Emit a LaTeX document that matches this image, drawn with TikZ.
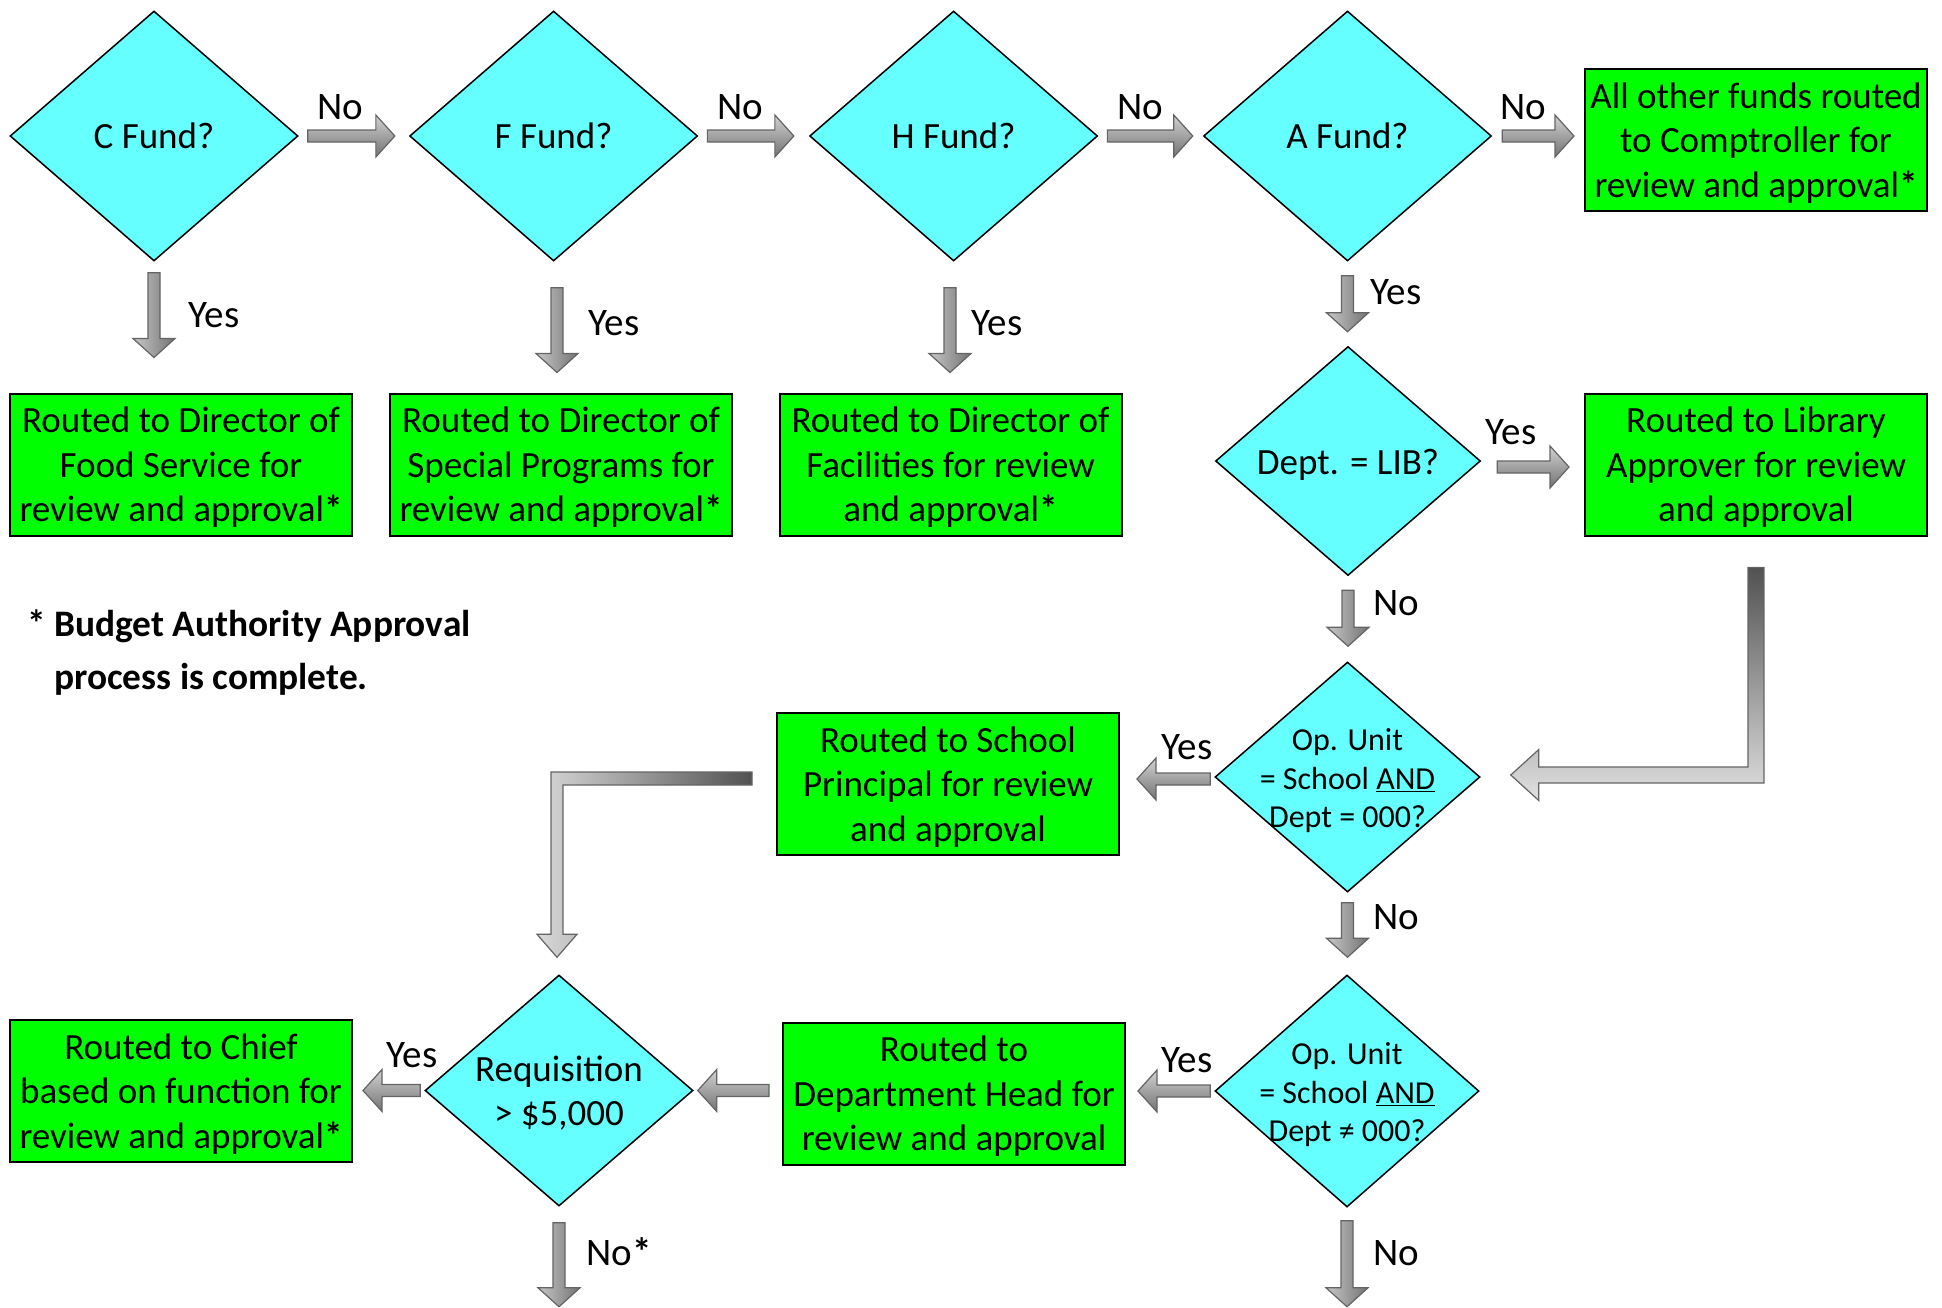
\documentclass[tikz,border=0pt]{standalone}
\usepackage{fontspec}
\setmainfont{Carlito}
\usetikzlibrary{shapes.geometric,calc}
\definecolor{dcyan}{RGB}{102,255,255}
\definecolor{bgreen}{RGB}{0,255,0}
\definecolor{aline}{RGB}{100,100,100}
% straight block arrow from #2 (tail) to #3 (tip)
\newcommand\barrow[3][]{%
  \draw[blockarrow,#1] let \p1=(#2), \p2=(#3),
    \n1={veclen(\x2-\x1,\y2-\y1)}, \n2={(\x2-\x1)/\n1}, \n3={(\y2-\y1)/\n1},
    \n4={\x2-(\n2)*19pt}, \n5={\y2-(\n3)*19pt} in
    ({\x1-(\n3)*6pt},{\y1+(\n2)*6pt}) --
    ({\n4*1pt-(\n3)*6pt},{\n5*1pt+(\n2)*6pt}) --
    ({\n4*1pt-(\n3)*21pt},{\n5*1pt+(\n2)*21pt}) --
    (\x2,\y2) --
    ({\n4*1pt+(\n3)*21pt},{\n5*1pt-(\n2)*21pt}) --
    ({\n4*1pt+(\n3)*6pt},{\n5*1pt-(\n2)*6pt}) --
    ({\x1+(\n3)*6pt},{\y1-(\n2)*6pt}) -- cycle;}
\begin{document}
\begin{tikzpicture}[x=1pt,y=-1pt,
  decision/.style 2 args={diamond, draw=black, line width=1.5pt, fill=dcyan, inner sep=0pt, minimum width=#1, minimum height=#2},
  dtext/.style={font=\fontsize{37}{44}\selectfont, align=center, inner sep=0pt},
  optext/.style={font=\fontsize{32}{38.5}\selectfont, align=center, inner sep=0pt, yshift=-4pt},
  procbox/.style={rectangle, draw=black, line width=2pt, fill=bgreen, minimum width=342, minimum height=142, inner sep=0pt},
  btext/.style={font=\fontsize{37}{44.6}\selectfont, align=center, inner sep=0pt, yshift=-3pt},
  lbl/.style={font=\fontsize{39}{47}\selectfont, inner sep=0pt},
  blockarrow/.style={draw=aline, line width=1.2pt, line join=miter},
  hshade/.style={top color=black!18, bottom color=black!55},
  vshade/.style={left color=black!22, right color=black!55}]
\useasboundingbox (0,0) rectangle (1942,1307);

% decisions
\node[decision={288}{250}, label={[dtext]center:{C Fund?}}] (cf) at (154,136) {};
\node[decision={288}{250}, label={[dtext]center:{F Fund?}}] (ff) at (553.6,136) {};
\node[decision={288}{250}, label={[dtext]center:{H Fund?}}] (hf) at (953.6,136) {};
\node[decision={288}{250}, label={[dtext]center:{A Fund?}}] (af) at (1347.5,136) {};
\node[decision={265}{229}, label={[dtext,yshift=-4pt]center:{Dept. = LIB?}}] (lib) at (1348,461) {};
\node[decision={265}{230}, label={[optext]center:{Op. Unit\\= School \underline{AND}\\Dept = 000?}}] (op1) at (1347.5,777) {};
\node[decision={264}{232}, label={[optext]center:{Op. Unit\\= School \underline{AND}\\Dept ≠ 000?}}] (op2) at (1347,1091) {};
\node[decision={268}{231}, label={[dtext,yshift=-3pt]center:{Requisition\\> \$5,000}}] (req) at (559,1090.5) {};

% process boxes
\node[procbox, label={[btext]center:{All other funds routed\\to Comptroller for\\review and approval\textbf{*}}}] (other) at (1756,140) {};
\node[procbox, label={[btext]center:{Routed to Director of\\Food Service for\\review and approval\textbf{*}}}] (food) at (181,464.5) {};
\node[procbox, label={[btext]center:{Routed to Director of\\Special Programs for\\review and approval\textbf{*}}}] (spec) at (561,464.5) {};
\node[procbox, label={[btext]center:{Routed to Director of\\Facilities for review\\and approval\textbf{*}}}] (fac) at (950.5,464.5) {};
\node[procbox, label={[btext]center:{Routed to Library\\Approver for review\\and approval}}] (libbox) at (1756,464.5) {};
\node[procbox, label={[btext]center:{Routed to School\\Principal for review\\and approval}}] (princ) at (948,784) {};
\node[procbox, label={[btext]center:{Routed to\\Department Head for\\review and approval}}] (dhead) at (954,1093.5) {};
\node[procbox, label={[btext]center:{Routed to Chief\\based on function for\\review and approval\textbf{*}}}] (chief) at (181,1091) {};

% footnote
\node[font=\bfseries\fontsize{37.4}{53}\selectfont, align=left, anchor=west, inner sep=0pt] (note) at (27,653) {* Budget Authority Approval\\\hphantom{*\ }process is complete.};

% straight block arrows
\barrow[hshade]{$(cf.east)+(9,0)$}{$(ff.west)+(-14,0)$}
\barrow[hshade]{$(ff.east)+(9,0)$}{$(hf.west)+(-15,0)$}
\barrow[hshade]{$(hf.east)+(9,0)$}{$(af.west)+(-10,0)$}
\barrow[hshade]{$(af.east)+(10,0)$}{$(other.west|-af.east)+(-10,0)$}
\barrow[vshade]{$(cf.south)+(0,11)$}{$(cf.south|-food.north)+(0,-35)$}
\barrow[vshade]{$(ff.south)+(3.4,26)$}{$(ff.south|-spec.north)+(3.4,-20)$}
\barrow[vshade]{$(hf.south)+(-3.6,26)$}{$(hf.south|-fac.north)+(-3.6,-20)$}
\barrow[vshade]{$(af.south)+(0,14)$}{$(af.south|-lib.north)+(0,-14)$}
\barrow[hshade]{$(lib.east)+(16,6)$}{$(lib.east-|libbox.west)+(-15,6)$}
\barrow[vshade]{$(lib.south)+(0,14)$}{$(lib.south|-op1.north)+(0,-15)$}
\barrow[vshade]{$(op1.south)+(0,10)$}{$(op1.south|-op2.north)+(0,-17)$}
\barrow[vshade]{$(op2.south)+(0,13)$}{$(op2.south)+(0,99)$}
\barrow[hshade]{$(op1.west)+(-4,2)$}{$(op1.west-|princ.east)+(17,2)$}
\barrow[hshade]{$(op2.west)+(-4,0)$}{$(op2.west-|dhead.east)+(12,0)$}
\barrow[hshade]{$(dhead.west|-req.east)+(-13,0)$}{$(req.east)+(4,0)$}
\barrow[hshade]{$(req.west)+(-4,0)$}{$(req.west-|chief.east)+(10,0)$}
\barrow[vshade]{$(req.south)+(0,16)$}{$(req.south)+(0,100)$}

% elbow arrows
\coordinate (e1s) at ($(libbox.south)+(0,31)$);
\coordinate (e1t) at ($(op1.east)+(30,-2)$);
\draw[blockarrow, top color=black!68, bottom color=black!12]
  ($(e1s)+(-8,0)$) -- ($(e1s)+(8,0)$) -- ($(e1s|-e1t)+(8,8)$) -- ($(e1t)+(28,8)$) --
  ($(e1t)+(28,25.5)$) -- (e1t) -- ($(e1t)+(28,-25.5)$) -- ($(e1t)+(28,-8)$) --
  ($(e1s|-e1t)+(-8,-8)$) -- cycle;
\coordinate (e2s) at ($(princ.west)+(-24,-5.5)$);
\coordinate (e2t) at ($(req.north)+(-2,-17)$);
\draw[blockarrow, left color=black!15, right color=black!68]
  ($(e2s)+(0,-6.5)$) -- ($(e2t|-e2s)+(-6,-6.5)$) -- ($(e2t)+(-6,-23)$) -- ($(e2t)+(-20,-23)$) --
  (e2t) -- ($(e2t)+(20,-23)$) -- ($(e2t)+(6,-23)$) -- ($(e2t|-e2s)+(6,6.5)$) --
  ($(e2s)+(0,6.5)$) -- cycle;

% labels
\node[lbl] (n1) at (340,107) {No};
\node[lbl] (n2) at (740,107) {No};
\node[lbl] (n3) at (1140,107) {No};
\node[lbl] (n4) at (1523,107) {No};
\node[lbl] (y1) at (214,315) {Yes};
\node[lbl] (y2) at (614,323) {Yes};
\node[lbl] (y3) at (997,323) {Yes};
\node[lbl] (y4) at (1396,292) {Yes};
\node[lbl] (y5) at (1511,432) {Yes};
\node[lbl] (n5) at (1396,603) {No};
\node[lbl] (y6) at (1187,747) {Yes};
\node[lbl] (n6) at (1396,917) {No};
\node[lbl] (y7) at (1187,1060) {Yes};
\node[lbl] (n7) at (1396,1253) {No};
\node[lbl] (y8) at (412,1055) {Yes};
\node[lbl] (n8) at (619,1252) {No\textbf{*}};
\end{tikzpicture}
\end{document}
